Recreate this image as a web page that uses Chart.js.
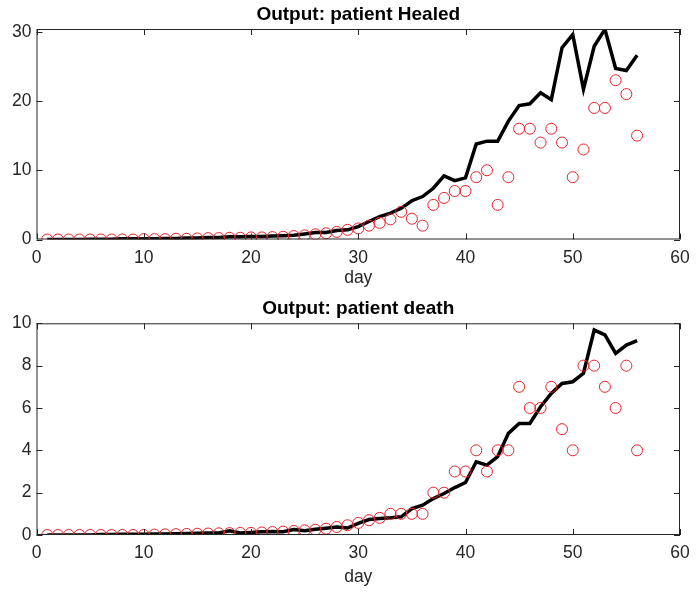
<!DOCTYPE html>
<html lang="en">
<head>
  <meta charset="UTF-8">
  <title>Output: patient Healed / death</title>
  <script src="https://cdn.jsdelivr.net/npm/chart.js"></script>
  <style>
    body {
      margin: 0;
      background: #fff;
      font-family: "Liberation Sans", Arial, sans-serif;
    }
    #wrap {
      position: relative;
      width: 700px;
      height: 594px;
    }
    .pane {
      position: absolute;
      left: 0;
      width: 700px;
      height: 297px;
    }
  </style>
</head>
<body>
  <div id="wrap">
    <div class="pane" style="top:0"><canvas id="healedChart"></canvas></div>
    <div class="pane" style="top:297px"><canvas id="deathChart"></canvas></div>
  </div>

  <script>
    const days = [1, 2, 3, 4, 5, 6, 7, 8, 9, 10, 11, 12, 13, 14, 15, 16, 17, 18, 19, 20,
      21, 22, 23, 24, 25, 26, 27, 28, 29, 30, 31, 32, 33, 34, 35, 36, 37, 38, 39, 40,
      41, 42, 43, 44, 45, 46, 47, 48, 49, 50, 51, 52, 53, 54, 55, 56];

    // observed (red circles) and model output (black line)
    const healedObserved = [0, 0, 0, 0, 0, 0, 0, 0, 0, 0.05, 0.05, 0.05, 0.1, 0.1,
      0.15, 0.2, 0.2, 0.25, 0.25, 0.3, 0.3, 0.35, 0.4, 0.5, 0.6, 0.75, 0.9, 1.1,
      1.4, 1.6, 2, 2.4, 2.9, 4, 3, 2, 5, 6, 7, 7, 9, 10, 5, 9, 16, 16, 14, 16, 14, 9,
      13, 19, 19, 23, 21, 15];
    const healedModel = [0, 0, 0, 0, 0.05, 0.05, 0.05, 0.1, 0.1, 0.1,
      0.1, 0.15, 0.15, 0.2, 0.2, 0.3, 0.3, 0.4, 0.4, 0.45,
      0.45, 0.5, 0.55, 0.6, 0.8, 1.0, 1.0, 1.3, 1.4, 1.85,
      2.6, 3.3, 3.8, 4.5, 5.6, 6.2, 7.4, 9.2, 8.5, 8.9,
      13.8, 14.2, 14.2, 17.1, 19.35, 19.6, 21.2, 20.2, 27.7, 29.6,
      21.7, 27.9, 30.35, 24.7, 24.4, 26.6];

    const deathObserved = [0, 0, 0, 0, 0, 0, 0, 0, 0, 0, 0.02, 0.03, 0.04, 0.05,
      0.06, 0.07, 0.08, 0.09, 0.1, 0.1, 0.12, 0.14, 0.16, 0.19, 0.22, 0.25, 0.3, 0.38,
      0.46, 0.57, 0.7, 0.81, 1, 1, 1, 1, 2, 2, 3, 3, 4, 3, 4, 4, 7, 6, 6, 7, 5, 4,
      8, 8, 7, 6, 8, 4];
    const deathModel = [0, 0, 0, 0, 0, 0.02, 0.02, 0.03, 0.03, 0.04,
      0.05, 0.05, 0.06, 0.07, 0.08, 0.1, 0.1, 0.2, 0.1, 0.12,
      0.15, 0.17, 0.15, 0.26, 0.2, 0.27, 0.32, 0.38, 0.33, 0.55,
      0.73, 0.78, 0.81, 0.86, 1.25, 1.41, 1.72, 1.96, 2.24, 2.48,
      3.46, 3.3, 3.7, 4.8, 5.27, 5.27, 6.06, 6.69, 7.16, 7.24,
      7.64, 9.68, 9.45, 8.58, 8.97, 9.18];

    const xTicks = [0, 10, 20, 30, 40, 50, 60];
    const healedTicks = [0, 10, 20, 30];
    const deathTicks = [0, 2, 4, 6, 8, 10];

    const axisColor = '#262626';
    const fontFamily = '"Liberation Sans", Arial, sans-serif';
    const tickFont = { family: fontFamily, size: 17.5 };

    // matlab style box with inward ticks on all four sides, title centred over the box
    const boxPlugin = {
      id: 'matlabBox',
      afterDraw(chart, args, opts) {
        const { ctx, chartArea: a, scales } = chart;
        const len = 6;
        ctx.save();
        ctx.strokeStyle = axisColor;
        ctx.lineWidth = 1;
        ctx.strokeRect(a.left + 0.5, a.top + 0.5, a.right - a.left - 1, a.bottom - a.top - 1);
        ctx.beginPath();
        scales.x.ticks.forEach(t => {
          const px = Math.round(scales.x.getPixelForValue(t.value)) + 0.5;
          ctx.moveTo(px, a.bottom); ctx.lineTo(px, a.bottom - len);
          ctx.moveTo(px, a.top); ctx.lineTo(px, a.top + len);
        });
        scales.y.ticks.forEach(t => {
          const py = Math.round(scales.y.getPixelForValue(t.value)) + 0.5;
          ctx.moveTo(a.left, py); ctx.lineTo(a.left + len, py);
          ctx.moveTo(a.right, py); ctx.lineTo(a.right - len, py);
        });
        ctx.stroke();

        ctx.fillStyle = '#000';
        ctx.font = 'bold 19px ' + fontFamily;
        ctx.textAlign = 'center';
        ctx.textBaseline = 'middle';
        ctx.fillText(opts.title, (a.left + a.right) / 2, opts.titleY);
        ctx.restore();
      }
    };

    function makeChart(id, title, titleY, top, observed, model, yMax, yTicks, xHeight, dayPad) {
      const toPts = arr => days.map((d, i) => ({ x: d, y: arr[i] }));
      return new Chart(document.getElementById(id), {
        type: 'line',
        data: {
          datasets: [{
            data: toPts(model),
            borderColor: '#000',
            borderWidth: 3.5,
            pointRadius: 0,
            tension: 0,
            order: 2
          }, {
            data: toPts(observed),
            showLine: false,
            pointRadius: 5.5,
            pointBorderWidth: 1,
            pointBorderColor: '#e8232a',
            pointBackgroundColor: 'rgba(0,0,0,0)',
            order: 1
          }]
        },
        options: {
          responsive: true,
          maintainAspectRatio: false,
          animation: false,
          layout: { padding: { left: 0, right: 20, top: top, bottom: 0 } },
          plugins: {
            legend: { display: false },
            tooltip: { enabled: false },
            title: { display: false },
            matlabBox: { title: title, titleY: titleY }
          },
          scales: {
            x: {
              type: 'linear',
              min: 0,
              max: 60,
              grid: { display: false, drawTicks: false },
              border: { display: false },
              afterBuildTicks: s => { s.ticks = xTicks.map(v => ({ value: v })); },
              afterFit: s => { s.height = xHeight; },
              ticks: { color: axisColor, font: tickFont, padding: 8, maxRotation: 0 },
              title: { display: true, text: 'day', color: axisColor, font: tickFont, padding: { top: 0, bottom: dayPad } }
            },
            y: {
              min: 0,
              max: yMax,
              grid: { display: false, drawTicks: false },
              border: { display: false },
              afterBuildTicks: s => { s.ticks = yTicks.map(v => ({ value: v })); },
              afterFit: s => { s.width = 36.5; },
              ticks: { color: axisColor, font: tickFont, padding: 5 }
            }
          }
        },
        plugins: [boxPlugin]
      });
    }

    makeChart('healedChart', 'Output: patient Healed', 15, 29,
      healedObserved, healedModel, 30.4, healedTicks, 57.5, 8);
    makeChart('deathChart', 'Output: patient death', 12, 26.3,
      deathObserved, deathModel, 10, deathTicks, 59, 6);
  </script>
</body>
</html>
